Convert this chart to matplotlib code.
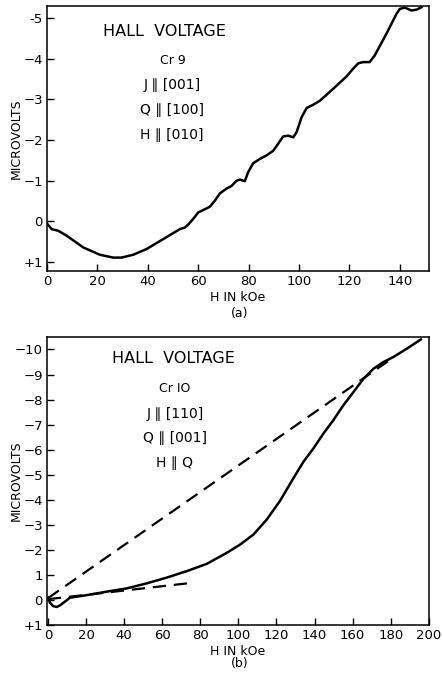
import numpy as np
import matplotlib.pyplot as plt

# panel (a): Cr 9, field in kOe, Hall voltage in microvolts
h_a = [0, 1.9, 4.5, 7.8, 14.4, 21, 26.3, 29.6, 34.2, 39.5, 46, 52.7, 54.7,
       56, 58, 60, 62, 64.6, 66.6, 68.6, 71.3, 73.2, 75.2, 76.5, 78.5, 79.8,
       81.8, 84.5, 87, 89.8, 91.7, 93.7, 95.7, 97.7, 99, 101, 103, 105.6,
       108.3, 113.5, 118.9, 121.5, 123.5, 125.4, 128, 130, 134.7, 138.7, 140,
       142, 144.6, 146.6, 148.6]
v_a = [0.05, 0.19, 0.23, 0.35, 0.64, 0.82, 0.89, 0.89, 0.82, 0.68, 0.44,
       0.19, 0.15, 0.08, -0.06, -0.22, -0.28, -0.36, -0.51, -0.69, -0.81,
       -0.87, -1.0, -1.03, -0.99, -1.21, -1.43, -1.54, -1.62, -1.74, -1.91,
       -2.09, -2.11, -2.07, -2.19, -2.56, -2.79, -2.87, -2.97, -3.26, -3.57,
       -3.76, -3.89, -3.92, -3.92, -4.08, -4.62, -5.11, -5.23, -5.26, -5.19,
       -5.21, -5.27]

# panel (b): Cr 10
h_b = [0.2, 1, 2.8, 4.6, 6.3, 8.9, 11.6, 20.3, 30.8, 41.3, 51.8, 62.3, 72.9,
       83.4, 93.9, 100.9, 107.9, 114.9, 121.9, 128.9, 134.2, 139.4, 144.7,
       149.9, 155.1, 160.4, 165.7, 170.9, 176.2, 181.4, 188.4, 195.8]
v_b = [-0.09, 0.1, 0.25, 0.28, 0.22, 0.07, -0.09, -0.19, -0.33, -0.46, -0.66,
       -0.89, -1.15, -1.44, -1.88, -2.21, -2.61, -3.21, -3.96, -4.86, -5.52,
       -6.05, -6.65, -7.18, -7.77, -8.30, -8.83, -9.23, -9.50, -9.70, -10.03,
       -10.4]
# dashed straight lines in (b)
dash1_h = [0, 181]
dash1_v = [-0.07, -9.66]
dash2_h = [0, 73]
dash2_v = [-0.03, -0.66]

ticks_a = [-5, -4, -3, -2, -1, 0, 1]
labels_a = ['-5', '−4', '−3', '−2', '−1', '0', '+1']
ticks_b = [-10, -9, -8, -7, -6, -5, -4, -3, -2, -1, 0, 1]
labels_b = ['−10', '−9', '−8', '−7', '−6', '−5', '−4', '−3', '−2', '1', '0',
            '+1']

plt.rcParams['font.family'] = 'DejaVu Sans'
fig = plt.figure(figsize=(4.43, 6.75), dpi=100)
ax1 = fig.add_axes([0.106, 0.5985, 0.862, 0.3926])
ax2 = fig.add_axes([0.106, 0.0741, 0.862, 0.4267])

lw = 1.8
ax1.plot(h_a, v_a, color='black', lw=lw)
ax1.set_xlim(0, 151.5)
ax1.set_ylim(1.22, -5.3)
ax1.set_xticks(range(0, 141, 20))
ax1.set_yticks(ticks_a)
ax1.set_yticklabels(labels_a)

ax2.plot(h_b, v_b, color='black', lw=lw)
ax2.plot(dash1_h, dash1_v, color='black', lw=1.6, dashes=(6, 3.5))
ax2.plot(dash2_h, dash2_v, color='black', lw=1.6, dashes=(6, 3.5))
ax2.set_xlim(-0.5, 200)
ax2.set_ylim(1.0, -10.5)
ax2.set_xticks(range(0, 201, 20))
ax2.set_yticks(ticks_b)
ax2.set_yticklabels(labels_b)

for ax in (ax1, ax2):
    ax.tick_params(direction='in', length=5, width=1, labelsize=9.5, pad=3)
    for s in ax.spines.values():
        s.set_linewidth(1.1)
    ax.set_ylabel('MICROVOLTS', fontsize=9)
    ax.yaxis.set_label_coords(-0.064, 0.5)
    ax.set_xlabel('H IN kOe', fontsize=9, labelpad=2)

ax1.text(0.146, 0.905, 'HALL  VOLTAGE', transform=ax1.transAxes,
         fontsize=11.5, ha='left', va='center')
txt_a = ['Cr 9', 'J ∥ [001]', 'Q ∥ [100]', 'H ∥ [010]']
for i, s in enumerate(txt_a):
    ax1.text(0.33 if i == 0 else 0.327, 0.795 - i * 0.094, s,
             transform=ax1.transAxes, fontsize=10 if i else 9,
             ha='center', va='center')
fig.text(0.542, 1 - 313 / 675, '(a)', fontsize=9, ha='center', va='center')

ax2.text(0.17, 0.924, 'HALL  VOLTAGE', transform=ax2.transAxes,
         fontsize=11.5, ha='left', va='center')
txt_b = ['Cr IO', 'J ∥ [110]', 'Q ∥ [001]', 'H ∥ Q']
for i, s in enumerate(txt_b):
    ax2.text(0.335, 0.82 - i * 0.086, s, transform=ax2.transAxes,
             fontsize=10 if i else 9, ha='center', va='center')
fig.text(0.542, 1 - 663 / 675, '(b)', fontsize=9, ha='center', va='center')

fig.savefig('out.png', dpi=100)
